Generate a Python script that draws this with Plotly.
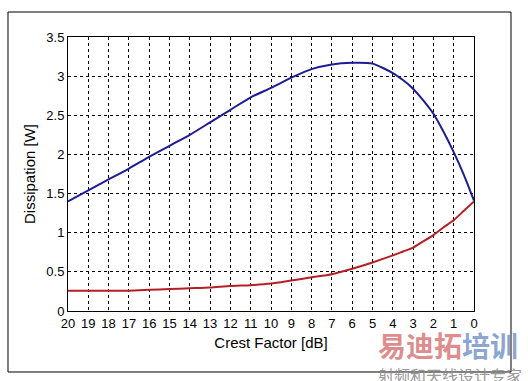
import plotly.graph_objects as go

crest_db = [20, 19, 18, 17, 16, 15, 14, 13, 12, 11, 10, 9, 8, 7, 6, 5, 4, 3.5, 3, 2.5, 2, 1.5, 1, 0.5, 0]
dissipation_max = [1.40, 1.54, 1.68, 1.82, 1.97, 2.11, 2.25, 2.41, 2.57, 2.73, 2.85, 2.98, 3.09, 3.15, 3.17, 3.16, 3.04, 2.95, 2.84, 2.69, 2.52, 2.29, 2.03, 1.74, 1.41]
dissipation_min = [0.26, 0.26, 0.26, 0.26, 0.27, 0.28, 0.29, 0.30, 0.32, 0.33, 0.35, 0.39, 0.43, 0.47, 0.54, 0.62, 0.71, 0.76, 0.81, 0.89, 0.97, 1.07, 1.16, 1.28, 1.40]
x_ticks = list(range(0, 21))
y_ticks = [0, 0.5, 1, 1.5, 2, 2.5, 3, 3.5]
y_tick_text = ["0", "0.5", "1", "1.5", "2", "2.5", "3", "3.5"]

fig = go.Figure()
fig.add_trace(go.Scatter(x=crest_db, y=dissipation_max, mode="lines", line_shape="spline",
                         line=dict(color="#1c1c96", width=2, smoothing=0.6), showlegend=False))
fig.add_trace(go.Scatter(x=crest_db, y=dissipation_min, mode="lines", line_shape="spline",
                         line=dict(color="#b51f26", width=2, smoothing=0.6), showlegend=False))

font = dict(family="Liberation Sans, Arial, sans-serif", size=13, color="black")
axis_common = dict(showline=True, linecolor="black", linewidth=1, mirror=True,
                   showgrid=True, gridcolor="black", gridwidth=1, griddash="3px,3px",
                   zeroline=False, ticks="", tickfont=font)

fig.update_xaxes(range=[20, 0], tickvals=x_ticks, ticktext=[str(v) for v in x_ticks],
                 title=dict(text="Crest Factor [dB]", font=dict(family=font["family"], size=15, color="black"), standoff=7),
                 **axis_common)
fig.update_yaxes(range=[0, 3.5], tickvals=y_ticks, ticktext=y_tick_text,
                 title=dict(text="Dissipation [W]", font=dict(family=font["family"], size=15, color="black"), standoff=7),
                 **axis_common)

# outer frame
fig.add_shape(type="rect", xref="paper", yref="paper",
              x0=-0.1478, x1=1.0911, y0=-0.2226, y1=1.0912,
              line=dict(color="black", width=1), fillcolor="rgba(0,0,0,0)", layer="below")

# watermark
fig.add_annotation(xref="paper", yref="paper", x=0.935, y=-0.125, xanchor="center", yanchor="middle",
                   text="<b><span style='color:rgba(215,120,120,0.85)'>易迪拓</span><span style='color:rgba(120,150,200,0.85)'>培训</span></b>",
                   showarrow=False, font=dict(family="Noto Sans CJK SC", size=28))
fig.add_annotation(xref="paper", yref="paper", x=0.94, y=-0.232, xanchor="center", yanchor="middle",
                   text="射频和天线设计专家", showarrow=False,
                   font=dict(family="Noto Sans CJK SC", size=16, color="rgba(140,140,140,0.9)"))

fig.update_layout(width=528, height=381, margin=dict(l=68, r=54, t=37, b=70),
                  paper_bgcolor="white", plot_bgcolor="white", font=font)
fig.write_html("out.html")
